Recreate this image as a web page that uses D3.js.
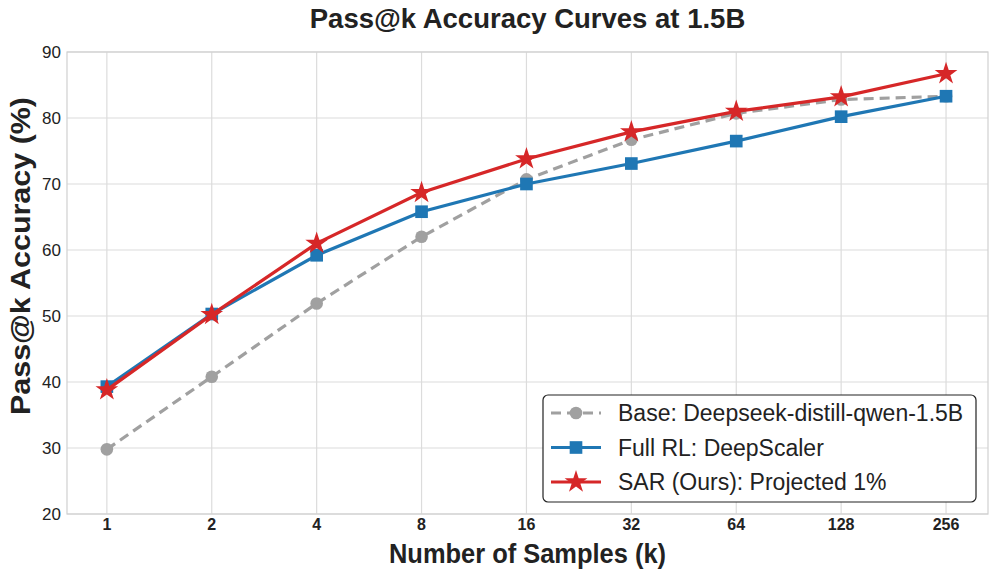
<!DOCTYPE html>
<html>
<head>
<meta charset="utf-8">
<script src="https://cdn.jsdelivr.net/npm/d3@7"></script>
<style>
  body { margin: 0; background: #fff; }
  svg { display: block; font-family: "Liberation Sans", Arial, sans-serif; }
</style>
</head>
<body>
<svg width="996" height="577"></svg>
<script>
const samples = ["1", "2", "4", "8", "16", "32", "64", "128", "256"];
const baseVals = [29.8, 40.8, 51.9, 62.0, 70.7, 76.7, 80.7, 82.8, 83.3];
const fullRlVals = [39.3, 50.3, 59.2, 65.8, 70.0, 73.1, 76.5, 80.2, 83.3];
const sarVals = [38.8, 50.2, 61.0, 68.7, 73.8, 77.9, 81.0, 83.2, 86.7];
const yTicks = [20, 30, 40, 50, 60, 70, 80, 90];

const series = [
  { name: "Base: Deepseek-distill-qwen-1.5B", values: baseVals, color: "#a0a0a0", dash: "10,6", marker: "circle" },
  { name: "Full RL: DeepScaler", values: fullRlVals, color: "#1f77b4", dash: null, marker: "square" },
  { name: "SAR (Ours): Projected 1%", values: sarVals, color: "#d62728", dash: null, marker: "star" },
];

const svg = d3.select("svg");
const m = { left: 67, right: 988, top: 52, bottom: 514 };

const x = d3.scaleLinear().domain([-0.38, 8.4]).range([m.left, m.right]);
const y = d3.scaleLinear().domain([20, 90]).range([m.bottom, m.top]);

// grid
const grid = svg.append("g");
grid.selectAll("line.h").data(yTicks).join("line")
  .attr("x1", m.left).attr("x2", m.right)
  .attr("y1", d => y(d)).attr("y2", d => y(d))
  .attr("stroke", "#dcdcdc").attr("stroke-width", 1.2);
grid.selectAll("line.v").data(samples).join("line")
  .attr("x1", (d, i) => x(i)).attr("x2", (d, i) => x(i))
  .attr("y1", m.top).attr("y2", m.bottom)
  .attr("stroke", "#dcdcdc").attr("stroke-width", 1.2);
svg.append("rect")
  .attr("x", m.left).attr("y", m.top)
  .attr("width", m.right - m.left).attr("height", m.bottom - m.top)
  .attr("fill", "none").attr("stroke", "#d0d0d0").attr("stroke-width", 1.2);

// tick labels
svg.append("g").selectAll("text").data(yTicks).join("text")
  .attr("x", m.left - 6).attr("y", d => y(d))
  .attr("dy", "0.35em").attr("text-anchor", "end")
  .attr("font-size", 17).attr("fill", "#222")
  .text(d => d);
svg.append("g").selectAll("text").data(samples).join("text")
  .attr("x", (d, i) => x(i)).attr("y", 530)
  .attr("text-anchor", "middle")
  .attr("font-size", 16).attr("font-weight", "bold").attr("fill", "#222")
  .text(d => d);

// titles
svg.append("text").attr("x", (m.left + m.right) / 2).attr("y", 28)
  .attr("text-anchor", "middle").attr("font-size", 27.5).attr("font-weight", "bold")
  .attr("fill", "#222").text("Pass@k Accuracy Curves at 1.5B");
svg.append("text").attr("x", (m.left + m.right) / 2).attr("y", 563)
  .attr("text-anchor", "middle").attr("font-size", 27).attr("font-weight", "bold")
  .attr("textLength", 277).attr("lengthAdjust", "spacingAndGlyphs")
  .attr("fill", "#222").text("Number of Samples (k)");
svg.append("text")
  .attr("transform", "translate(30,256) rotate(-90)")
  .attr("text-anchor", "middle").attr("font-size", 27.5).attr("font-weight", "bold")
  .attr("textLength", 318).attr("lengthAdjust", "spacingAndGlyphs")
  .attr("fill", "#222").text("Pass@k Accuracy (%)");

const symbols = {
  circle: d3.symbol().type(d3.symbolCircle).size(125),
  square: d3.symbol().type(d3.symbolSquare).size(160),
  star: d3.symbol().type(d3.symbolStar).size(160),
};

function drawMarker(g, type, color, cx, cy) {
  g.append("path")
    .attr("d", symbols[type]())
    .attr("transform", `translate(${cx},${cy})`)
    .attr("fill", color);
}

const line = d3.line().x((d, i) => x(i)).y(d => y(d));

series.forEach(s => {
  const g = svg.append("g");
  g.append("path").datum(s.values)
    .attr("d", line)
    .attr("fill", "none").attr("stroke", s.color).attr("stroke-width", 3.2)
    .attr("stroke-dasharray", s.dash);
  s.values.forEach((v, i) => drawMarker(g, s.marker, s.color, x(i), y(v)));
});

// legend
const lg = svg.append("g").attr("transform", "translate(543,395)");
lg.append("rect").attr("width", 433).attr("height", 107).attr("rx", 5)
  .attr("fill", "#fff").attr("stroke", "#222").attr("stroke-width", 1.2);
series.forEach((s, i) => {
  const cy = 18 + i * 34.5;
  lg.append("line").attr("x1", 8).attr("x2", 58).attr("y1", cy).attr("y2", cy)
    .attr("stroke", s.color).attr("stroke-width", 3.2).attr("stroke-dasharray", s.dash);
  drawMarker(lg, s.marker, s.color, 33, cy);
  lg.append("text").attr("x", 75).attr("y", cy).attr("dy", "0.35em")
    .attr("font-size", 23).attr("fill", "#222").text(s.name);
});
</script>
</body>
</html>
